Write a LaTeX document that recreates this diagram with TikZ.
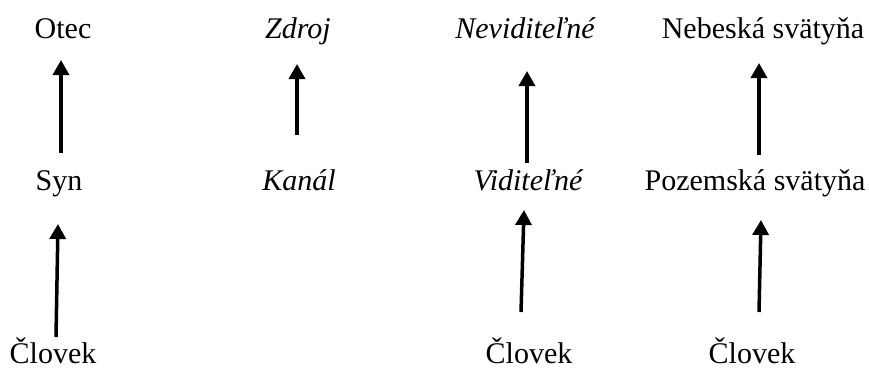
\documentclass[tikz,border=0pt]{standalone}
\usepackage{fontspec}
\setmainfont{Liberation Serif}
\usetikzlibrary{arrows.meta}

\begin{document}
\begin{tikzpicture}[x=1pt,y=-1pt]
    \tikzstyle{every node}+=[inner sep=0pt,anchor=base,font=\fontsize{30}{36}\selectfont]
    \tikzstyle{up}=[line width=3.5pt,-{Triangle[width=16pt,length=15pt]}]
    \useasboundingbox (0,0) rectangle (869,368);
    % top row
    \node (otec) at (63,38) {Otec};
    \node (zdroj) at (298,38) {\itshape Zdroj};
    \node (nevid) at (525,38) {\itshape Neviditeľné};
    \node (nebeska) at (763,38) {Nebeská svätyňa};
    % middle row
    \node (syn) at (59,190) {Syn};
    \node (kanal) at (299,190) {\itshape Kanál};
    \node (vid) at (528,190) {\itshape Viditeľné};
    \node (pozemska) at (755,190) {Pozemská svätyňa};
    % bottom row
    \node (clovekA) at (53,363) {Človek};
    \node (clovekB) at (529,363) {Človek};
    \node (clovekC) at (752,363) {Človek};
    % arrows
    \draw [up] ([xshift=2pt,yshift=37pt]syn.base) -- ([xshift=-2pt,yshift=-22pt]otec.base);
    \draw [up] ([xshift=3pt,yshift=26pt]clovekA.base) -- ([xshift=-1pt,yshift=-34pt]syn.base);
    \draw [up] ([xshift=-2pt,yshift=55pt]kanal.base) -- ([xshift=-1pt,yshift=-26pt]zdroj.base);
    \draw [up] ([xshift=-1pt,yshift=27pt]vid.base) -- ([xshift=2pt,yshift=-33pt]nevid.base);
    \draw [up] ([xshift=-8pt,yshift=51pt]clovekB.base) -- ([xshift=-4pt,yshift=-20pt]vid.base);
    \draw [up] ([xshift=4pt,yshift=35pt]pozemska.base) -- ([xshift=-4pt,yshift=-25pt]nebeska.base);
    \draw [up] ([xshift=7pt,yshift=51pt]clovekC.base) -- ([xshift=6pt,yshift=-30pt]pozemska.base);
\end{tikzpicture}
\end{document}
